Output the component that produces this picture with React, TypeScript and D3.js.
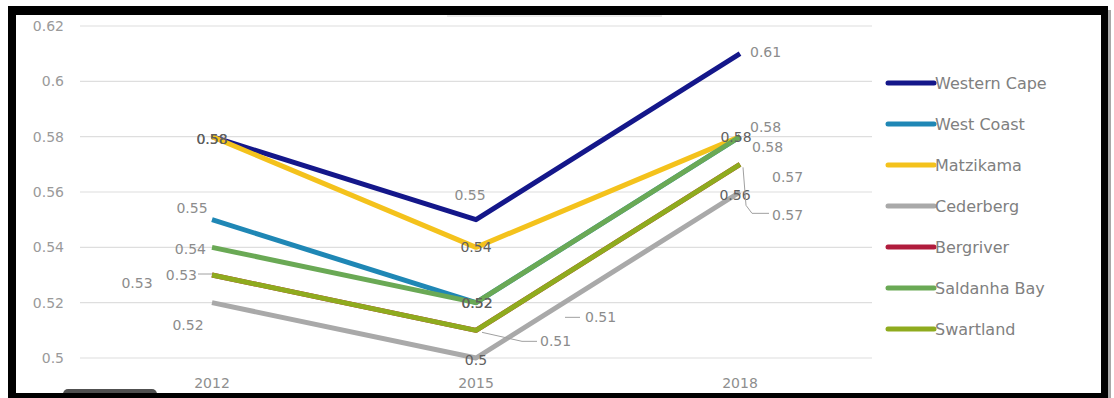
import React from "react";
import * as d3 from "d3";

const years = ["2012", "2015", "2018"];
const seriesNames = ["Western Cape", "West Coast", "Matzikama", "Cederberg", "Bergriver", "Saldanha Bay", "Swartland"];
const westernCape = [0.58, 0.55, 0.61];
const westCoast = [0.55, 0.52, 0.58];
const matzikama = [0.58, 0.54, 0.58];
const cederberg = [0.52, 0.5, 0.56];
const bergriver = [0.53, 0.51, 0.57];
const saldanhaBay = [0.54, 0.52, 0.58];
const swartland = [0.53, 0.51, 0.57];
const yTicks = [0.5, 0.52, 0.54, 0.56, 0.58, 0.6, 0.62];

const seriesValues = [westernCape, westCoast, matzikama, cederberg, bergriver, saldanhaBay, swartland];
const colors = ["#14178a", "#1f87b5", "#f4c21c", "#a9a9a9", "#b01c3c", "#6aa955", "#8fab1e"];

// label placement per series per year: [dx, dy, anchor, dark, leader]
type LP = [number, number, string, boolean, number[][] | null];
const labelPos: LP[][] = [
  [[0, 2, "middle", true, null], [-6, -25, "middle", false, null], [10, -2, "start", false, null]],
  [[-20, -12, "middle", false, null], [1, 0, "middle", true, null], [10, -10, "start", false, null]],
  [[0, 2, "middle", true, null], [0, 0, "middle", true, null], [-4, 0, "middle", true, null]],
  [[-24, 22, "middle", false, null], [0, 2, "middle", true, null], [-5, 3, "middle", true, null]],
  [[-75, 8, "middle", false, null], [64, 11, "start", false, [[6, 2], [46, 11], [61, 11]]], [32, 51, "start", false, [[3, 3], [6, 41], [12, 49], [29, 49]]]],
  [[-6, 2, "end", false, null], [1, 0, "middle", true, null], [12, 10, "start", false, null]],
  [[-15, 0, "end", false, [[-14, -1], [0, -1]]], [109, -13, "start", false, [[89, -13], [104, -13]]], [32, 13, "start", false, null]],
];

const W = 1114;
const H = 398;

export default function App() {
  const x = d3.scaleBand<string>().domain(years).range([80, 872]).padding(0);
  const cx = (yr: string) => (x(yr) as number) + x.bandwidth() / 2;
  const y = d3.scaleLinear().domain([0.5, 0.62]).range([358, 26]);
  const line = d3
    .line<number>()
    .x((_, i) => cx(years[i]))
    .y((v) => y(v));
  const font = "'DejaVu Sans', sans-serif";
  const fmt = (v: number) => String(+v.toFixed(2));

  return (
    <svg width={W} height={H} style={{ position: "absolute", left: 0, top: 0, background: "#fff" }} fontFamily={font}>
      <rect x={0} y={0} width={W} height={H} fill="#fff" />
      {yTicks.map((t) => (
        <g key={t}>
          <line x1={80} x2={872} y1={y(t)} y2={y(t)} stroke="#dedede" strokeWidth={1.2} />
          <text x={64} y={y(t)} textAnchor="end" dominantBaseline="central" fontSize={14} fill="#9a9a9a">
            {fmt(t)}
          </text>
        </g>
      ))}
      {years.map((yr) => (
        <text key={yr} x={cx(yr)} y={383} textAnchor="middle" dominantBaseline="central" fontSize={14} fill="#8e8e8e">
          {yr}
        </text>
      ))}
      {seriesValues.map((vals, si) => (
        <path key={si} d={line(vals) as string} fill="none" stroke={colors[si]} strokeWidth={5} strokeLinejoin="round" />
      ))}
      {seriesValues.map((vals, si) =>
        vals.map((v, i) => {
          const [dx, dy, anchor, dark, leader] = labelPos[si][i];
          const px = cx(years[i]);
          const py = y(v);
          return (
            <g key={`${si}-${i}`}>
              {leader && (
                <polyline
                  points={leader.map((p) => `${px + p[0]},${py + p[1]}`).join(" ")}
                  fill="none"
                  stroke="#a0a0a0"
                  strokeWidth={1}
                />
              )}
              <text
                x={px + dx}
                y={py + dy}
                textAnchor={anchor}
                dominantBaseline="central"
                fontSize={14}
                fill={dark ? "#5f5f5f" : "#8c8c8c"}
              >
                {fmt(v)}
              </text>
            </g>
          );
        })
      )}
      {seriesNames.map((name, i) => {
        const ly = 83 + i * 41;
        return (
          <g key={name}>
            <line x1={888} x2={934} y1={ly} y2={ly} stroke={colors[i]} strokeWidth={5} strokeLinecap="round" />
            <text x={935} y={ly} dominantBaseline="central" fontSize={16} fill="#808080">
              {name}
            </text>
          </g>
        );
      })}
      <line x1={447} x2={662} y1={16} y2={16} stroke="#d8d8d8" strokeWidth={1} />
      <rect x={63} y={389} width={94} height={10} rx={5} fill="#505050" />
      <rect x={1108} y={10} width={3} height={H - 10} fill="#a8a8a8" />
      <rect x={8} y={6} width={8} height={H - 6} fill="#000" />
      <rect x={8} y={6} width={1100} height={9} fill="#000" />
      <rect x={1101} y={6} width={7} height={H - 6} fill="#000" />
      <rect x={8} y={393} width={1100} height={5} fill="#000" />
    </svg>
  );
}
